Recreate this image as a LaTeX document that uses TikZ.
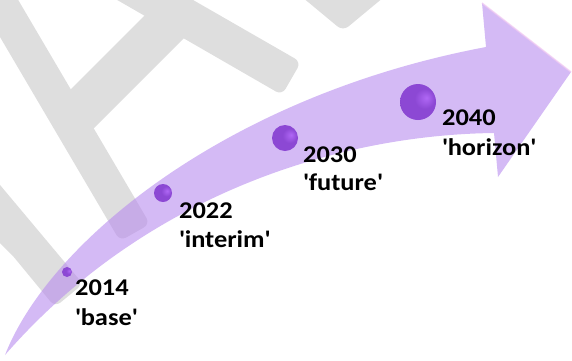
\documentclass[tikz,border=0pt]{standalone}
\usepackage{fontspec}
\newfontfamily\lblfont[FakeStretch=1.1]{Carlito}
\definecolor{wmgrey}{RGB}{222,222,222}
\definecolor{lavfill}{RGB}{184,140,238}
\definecolor{lavrim}{RGB}{242,204,242}
\definecolor{orbhi}{RGB}{176,104,245}
\definecolor{orbmid}{RGB}{140,72,212}
\definecolor{orbdk}{RGB}{104,52,160}
\pgfdeclareradialshading{orbshade}{\pgfpoint{12bp}{6bp}}{color(0bp)=(orbhi); color(14bp)=(orbmid); color(30bp)=(orbmid); color(46bp)=(orbdk); color(60bp)=(orbdk)}
\tikzset{
  year/.style={font=\lblfont\bfseries\fontsize{24}{29}\selectfont, inner sep=0pt, anchor=base west},
  orb/.style={circle, shading=orbshade, inner sep=0pt},
  wm/.style={fill=wmgrey, rounded corners=7pt}
}

\begin{document}
\begin{tikzpicture}[x=1pt, y=-1pt]
  \useasboundingbox (0,0) rectangle (572,360);
  \begin{scope}
    \clip (0,0) rectangle (572,360);
    \fill[wm] (-20,-65) -- (150,224) -- (120,241) -- (-60,-65) -- cycle;
    \fill[wmgrey] (50,110) -- (160,0) -- (200,22) -- (80,142) -- cycle;
    \fill[wm] (60,-33) -- (282,95) -- (301,62) -- (120,-42) -- cycle;
    \fill[wm] (296,-8) -- (343,31) -- (390,-8) -- cycle;
    \fill[wm] (-10,173) -- (83,284) -- (55,307) [sharp corners] -- (13,256) -- (0,243) -- (-10,243) -- cycle;
  \end{scope}

  \coordinate (tail) at (5,355);
  \coordinate (uj) at (486,47);
  \coordinate (hb) at (482,3);
  \coordinate (tip) at (571,72);
  \coordinate (hl) at (498,177);
  \coordinate (lj) at (494,133);
  \fill[lavfill, fill opacity=0.6]
    (tail) .. controls (50,240) and (230,95) .. (uj) -- (hb) -- (tip) -- (hl) -- (lj)
    .. controls (330,135) and (140,200) .. (tail) -- cycle;
  \draw[lavrim, line width=1.5pt, opacity=0.7] (hb) -- (tip);

  \node[orb, minimum size=10pt] (o14) at (67,272) {};
  \node[orb, minimum size=18pt] (o22) at (163,193) {};
  \node[orb, minimum size=26pt] (o30) at (285,138) {};
  \node[orb, minimum size=36pt] (o40) at (418,102) {};

  \node[year] (y14) at (75,295) {2014};
  \node[year] (n14) at ([yshift=-30pt]y14.base west) {\textquotesingle base\textquotesingle};
  \node[year] (y22) at (179,218) {2022};
  \node[year] (n22) at ([yshift=-29pt]y22.base west) {\textquotesingle interim\textquotesingle};
  \node[year] (y30) at (303,162) {2030};
  \node[year] (n30) at ([yshift=-28pt]y30.base west) {\textquotesingle future\textquotesingle};
  \node[year] (y40) at (442,125) {2040};
  \node[year] (n40) at ([yshift=-30pt]y40.base west) {\textquotesingle horizon\textquotesingle};
\end{tikzpicture}
\end{document}
